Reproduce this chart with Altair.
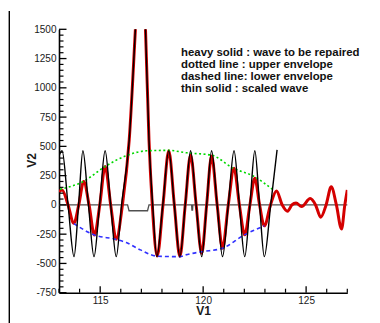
import altair as alt
import pandas as pd

# ---- data ----
red_x = [113.0, 113.15, 113.44, 113.72, 113.96, 114.2, 114.46, 114.72, 114.98, 115.24, 115.51, 115.78,
         116.08, 116.41, 116.71, 116.95, 117.2, 117.37, 117.53, 117.77, 118.05, 118.33, 118.6, 118.87,
         119.13, 119.39, 119.66, 119.93, 120.17, 120.41, 120.68, 120.94, 121.22, 121.5, 121.76, 122.02,
         122.27, 122.51, 122.74, 122.97, 123.27, 123.56, 123.84, 124.1, 124.31, 124.51, 124.78, 125.2,
         125.46, 125.71, 125.97, 126.22, 126.47, 126.72, 126.88, 127.0]
red_y = [112, 128, 0, -157, 0, 199, 0, -257, 0, 327, 0, -293,
         0, 555, 1500, 2300, 1500, 555, 0, -436, 0, 463, 0, -441,
         0, 427, 0, -413, 0, 418, 0, -370, 0, 313, 0, -256,
         0, 228, 0, -179, 0, 118, 0, -54, 0, 17, -14, 54,
         0, -105, 0, 154, 0, -206, 0, 128]

black_x = [113.0, 113.15, 113.44, 113.73, 113.95, 114.16, 114.43, 114.7, 114.97, 115.24, 115.51, 115.78,
           116.04, 116.41, 116.71, 116.95, 117.2, 117.37, 117.55, 117.75, 118.04, 118.33, 118.6, 118.87,
           119.13, 119.39, 119.66, 119.93, 120.17, 120.41, 120.68, 120.94, 121.22, 121.5, 121.76, 122.02,
           122.27, 122.51, 122.74, 122.97, 123.28, 123.59]
black_y = [420, 463, 0, -442, 0, 463, 0, -442, 0, 463, 0, -442,
           0, 555, 1500, 2300, 1500, 555, 0, -442, 0, 463, 0, -442,
           0, 463, 0, -442, 0, 463, 0, -442, 0, 463, 0, -442,
           0, 463, 0, -442, 0, 470]

upper_x = [113.05, 114.18, 115.24, 116.27, 117.25, 118.3, 119.2, 120.4, 121.45, 122.45, 123.42]
upper_y = [134, 200, 328, 421, 462, 466, 445, 425, 314, 245, 125]

lower_x = [113.72, 114.72, 115.78, 116.27, 116.95, 117.77, 118.87, 119.15, 119.93, 120.94, 122.0, 122.97]
lower_y = [-160, -257, -295, -322, -384, -438, -442, -427, -400, -370, -256, -179]

zero_x = [113.0, 116.33, 116.4, 117.3, 117.37, 119.44, 119.455, 119.485, 119.5, 127.0]
zero_y = [0, 0, -50, -50, 0, 0, -45, -45, 0, 0]

x_major = [115, 120, 125]
x_minor = [113, 114, 116, 117, 118, 119, 121, 122, 123, 124, 126, 127]
y_major = [-750, -500, -250, 0, 250, 500, 750, 1000, 1250, 1500]
y_minor = [v for v in range(-750, 1501, 50) if v % 250 != 0]

legend_lines = ["heavy solid : wave to be repaired",
                "dotted line : upper envelope",
                "dashed line: lower envelope",
                "thin solid : scaled wave"]

# ---- layout ----
W, H = 288.3, 263.4
FONT = "Liberation Sans"

xs = alt.Scale(domain=[113, 127], nice=False, zero=False)
ys = alt.Scale(domain=[-750, 1500], nice=False, zero=False)

x_axis = alt.Axis(values=x_major, format="d", ticks=False, grid=False,
                  domainColor="black", domainWidth=1.6,
                  labelFont=FONT, labelFontSize=10, labelColor="#1a1a1a", labelPadding=2.5,
                  title="V1", titleFont=FONT, titleFontSize=12, titleFontWeight="bold",
                  titleColor="#1a1a1a", titleY=22, titleBaseline="alphabetic")
y_axis = alt.Axis(values=y_major, labelExpr="'' + datum.value", ticks=False, grid=False,
                  domainColor="black", domainWidth=1.6, labelOverlap=False,
                  labelFont=FONT, labelFontSize=10, labelColor="#1a1a1a", labelPadding=3,
                  title="V2", titleFont=FONT, titleFontSize=12, titleFontWeight="bold",
                  titleColor="#1a1a1a", titleAngle=270, titleX=-28, titleY=130.7,
                  titleAlign="center", titleBaseline="middle")

X = alt.X("x:Q", scale=xs, axis=x_axis)
Y = alt.Y("y:Q", scale=ys, axis=y_axis)


def df(xv, yv):
    return pd.DataFrame({"x": xv, "y": yv})


zero_line = alt.Chart(df(zero_x, zero_y)).mark_line(color="#505050", strokeWidth=1.3).encode(x=X, y=Y)

red_line = alt.Chart(df(red_x, red_y)).mark_line(
    color="#d40000", strokeWidth=3, interpolate="monotone", clip=True).encode(x=X, y=Y)

upper_line = alt.Chart(df(upper_x, upper_y)).mark_line(
    color="#00d800", strokeWidth=1.6, strokeDash=[2, 2.5], interpolate="monotone").encode(x=X, y=Y)

lower_line = alt.Chart(df(lower_x, lower_y)).mark_line(
    color="#3030ff", strokeWidth=1.6, strokeDash=[4, 3], interpolate="monotone").encode(x=X, y=Y)

black_line = alt.Chart(df(black_x, black_y)).mark_line(
    color="black", strokeWidth=1.4, interpolate="monotone", clip=True).encode(x=X, y=Y)

# inward tick marks
y_major_ticks = alt.Chart(pd.DataFrame({"y": y_major})).mark_rule(color="black", strokeWidth=1.3).encode(
    y=Y, x=alt.value(0), x2=alt.value(7.5))
y_minor_ticks = alt.Chart(pd.DataFrame({"y": y_minor})).mark_rule(color="black", strokeWidth=1.2).encode(
    y=Y, x=alt.value(0), x2=alt.value(4.5))
x_major_ticks = alt.Chart(pd.DataFrame({"x": x_major})).mark_rule(color="black", strokeWidth=1.3).encode(
    x=X, y=alt.value(H), y2=alt.value(H - 6.5))
x_minor_ticks = alt.Chart(pd.DataFrame({"x": x_minor})).mark_rule(color="black", strokeWidth=1.2).encode(
    x=X, y=alt.value(H), y2=alt.value(H - 4))

legend_text = alt.Chart(pd.DataFrame({"k": [0]})).mark_text(
    text=legend_lines, align="left", baseline="alphabetic", font=FONT, fontSize=11.4,
    fontWeight="bold", lineHeight=12.2, color="#111111").encode(
    x=alt.value(122), y=alt.value(26.2))

frame_line = alt.Chart(pd.DataFrame({"k": [0]})).mark_rule(color="black", strokeWidth=1.4).encode(
    x=alt.value(-49.7), y=alt.value(-18.3), y2=alt.value(H + 40))

chart = alt.layer(
    zero_line, red_line, upper_line, lower_line, black_line,
    y_major_ticks, y_minor_ticks, x_major_ticks, x_minor_ticks,
    legend_text, frame_line,
).properties(
    width=W, height=H,
    padding={"left": 59, "top": 29.3, "right": 32.7, "bottom": 30.3},
    autosize=alt.AutoSizeParams(type="none"),
).configure_view(stroke=None)

chart.save("out.html", embed_options={"renderer": "svg", "actions": False})
